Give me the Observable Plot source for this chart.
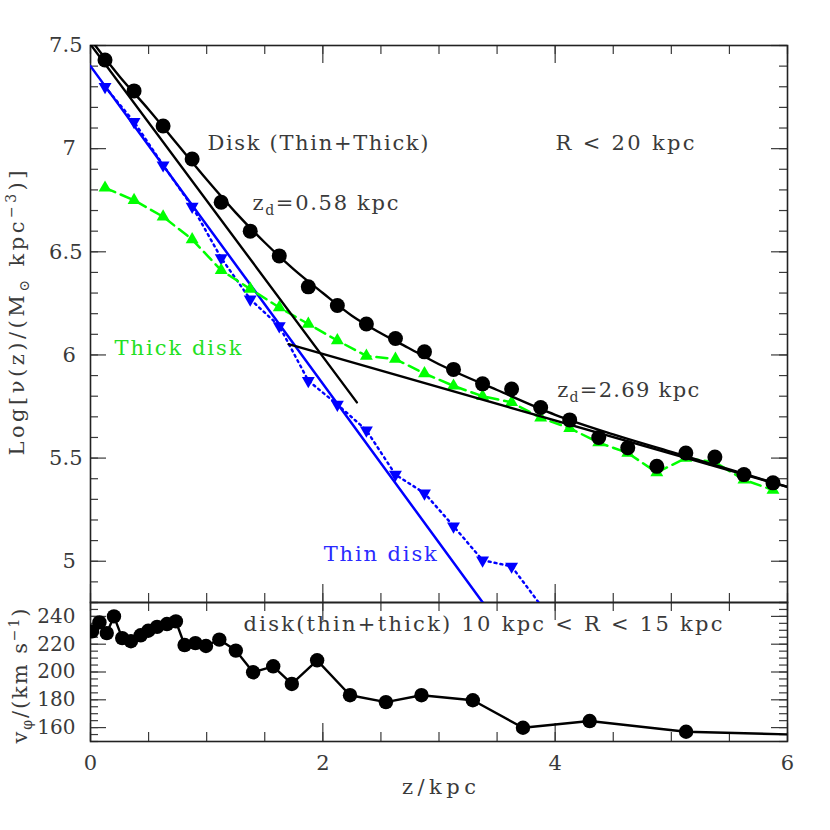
<!DOCTYPE html>
<html>
<head>
<meta charset="utf-8">
<script src="https://cdn.jsdelivr.net/npm/d3@7"></script>
<script src="https://cdn.jsdelivr.net/npm/@observablehq/plot@0.6"></script>
<style>
html,body{margin:0;padding:0;background:#fff;}
#chart{position:relative;width:830px;height:830px;}
#chart svg{position:absolute;left:0;top:0;}
#chart text{white-space:pre;}
</style>
</head>
<body>
<div id="chart"></div>
<script>
// ---------------- data ----------------
const zBins = [0.125,0.375,0.625,0.875,1.125,1.375,1.625,1.875,2.125,2.375,2.625,2.875,
               3.125,3.375,3.625,3.875,4.125,4.375,4.625,4.875,5.125,5.375,5.625,5.875];
const logNuDisk  = [7.43,7.28,7.11,6.95,6.74,6.60,6.48,6.33,6.24,6.15,6.08,6.015,
                    5.93,5.86,5.835,5.745,5.685,5.60,5.55,5.46,5.525,5.505,5.42,5.38];
const logNuThick = [6.81,6.75,6.67,6.56,6.41,6.32,6.23,6.15,6.07,5.995,5.98,5.91,
                    5.85,5.80,5.77,5.695,5.645,5.575,5.525,5.43,5.50,5.48,5.395,5.345];
const zThin      = [0.125,0.375,0.625,0.875,1.125,1.375,1.625,1.875,2.125,2.375,2.625,2.875,
                    3.125,3.375,3.625,4.125];
const logNuThin  = [7.30,7.13,6.92,6.72,6.47,6.27,6.14,5.875,5.76,5.635,5.42,5.33,
                    5.17,5.005,4.975,4.60];

// fitted lines
const fitThinZ = [0, 3.5],      fitThinLog = [7.40, 4.705];   // blue: thin disk fit
const fitSteepZ = [0, 2.293],   fitSteepLog = [7.505, 5.770]; // z_d = 0.58 kpc
const fitThickZ = [1.705, 6.0], fitThickLog = [6.052, 5.36];  // z_d = 2.69 kpc
const fitSumZ   = [0,0.25,0.5,0.75,1,1.25,1.5,1.75,2,2.25,2.5,2.75,3,3.5,4,4.5,5,5.5,6];
const fitSumLog = [7.53,7.35,7.19,7.02,6.85,6.69,6.545,6.415,6.30,6.19,6.105,6.03,5.955,
                   5.83,5.71,5.615,5.53,5.445,5.36];

// rotation velocity, bottom panel
const vZ   = [0.013,0.077,0.140,0.202,0.273,0.348,0.432,0.497,0.573,0.658,0.735,0.810,0.903,0.994,
              1.109,1.251,1.400,1.573,1.733,1.951,2.234,2.543,2.849,3.291,3.723,4.297,5.127,7.0];
const vPhi = [229.2,235.7,228.0,240.0,224.4,222.1,226.4,229.7,232.5,234.5,236.4,219.4,220.8,218.7,
              223.3,215.4,199.8,204.1,191.4,208.4,183.3,178.3,183.3,179.7,159.9,164.7,157.0,153.0];

// ticks / labels
const xTickLabels = [0, 2, 4, 6];
const topYLabels = [5, 5.5, 6, 6.5, 7, 7.5];
const botYLabels = [160, 180, 200, 220, 240];

// annotation texts
const txtDisk = "Disk (Thin+Thick)";
const txtR = "R < 20 kpc";
const txtZd1 = "zd=0.58 kpc";
const txtZd2 = "zd=2.69 kpc";
const txtThick = "Thick disk";
const txtThin = "Thin disk";
const txtBottom = "disk(thin+thick) 10 kpc < R < 15 kpc";
const txtXTitle = "z/kpc";
const txtYTop = "Log[ν(z)/(M⊙ kpc−3)]";
const txtYBot = "vφ/(km s−1)";

// ---------------- tables ----------------
const rows = (xs, ys) => xs.map((z, i) => ({z, v: ys[i]}));
const diskRows = rows(zBins, logNuDisk);
const thickRows = rows(zBins, logNuThick);
const thinRows = rows(zThin, logNuThin);
const vRows = rows(vZ, vPhi);

// ---------------- layout / style ----------------
const FONT = "'DejaVu Serif', 'Liberation Serif', serif";
const INK = "#3a3a3a";
const W = 830, H = 830, ML = 90, MR = 43;
const TOP_T = 45, TOP_B = 602, BOT_B = 741;
const plotW = W - ML - MR;
const GREEN = "#00ff00", BLUE = "#0000ff";

function frameTicks(plotH, yMaj, yMin) {
  const s = {stroke: INK, strokeWidth: 1.2};
  const xMin = d3.range(0, 6.001, 0.5);
  const xMaj = xTickLabels;
  return [
    Plot.tickX(xMin, {x: d => d, insetTop: plotH - 9, ...s}),
    Plot.tickX(xMin, {x: d => d, insetBottom: plotH - 9, ...s}),
    Plot.tickX(xMaj, {x: d => d, insetTop: plotH - 18, ...s}),
    Plot.tickX(xMaj, {x: d => d, insetBottom: plotH - 18, ...s}),
    Plot.tickY(yMin, {y: d => d, insetRight: plotW - 8, ...s}),
    Plot.tickY(yMin, {y: d => d, insetLeft: plotW - 8, ...s}),
    Plot.tickY(yMaj, {y: d => d, insetRight: plotW - 16, ...s}),
    Plot.tickY(yMaj, {y: d => d, insetLeft: plotW - 16, ...s}),
    Plot.frame({stroke: "#222", strokeWidth: 1.6})
  ];
}

const txt = (s, o) => Plot.text([s], {text: d => d, fill: INK, fontSize: 21, textAnchor: "start", ...o});

const topPlot = Plot.plot({
  width: W, height: H,
  marginTop: TOP_T, marginBottom: H - TOP_B, marginLeft: ML, marginRight: MR,
  x: {domain: [0, 6], axis: null},
  y: {domain: [4.8, 7.5], axis: null},
  style: {background: "none", fontFamily: FONT, color: INK, overflow: "visible"},
  marks: [
    ...frameTicks(TOP_B - TOP_T, topYLabels, d3.range(4.8, 7.501, 0.1)),
    Plot.text(topYLabels, {y: d => d, text: d => Number.isInteger(d) ? d + "\u00a0" : String(d),
      frameAnchor: "left", textAnchor: "end", dx: -8, fontSize: 21, fill: INK}),
    // thin disk
    Plot.line(rows(fitThinZ, fitThinLog), {x: "z", y: "v", stroke: BLUE, strokeWidth: 2.5, clip: true}),
    Plot.line(thinRows, {x: "z", y: "v", stroke: BLUE, strokeWidth: 2.4, strokeDasharray: "2,4", clip: true}),
    Plot.dot(thinRows, {x: "z", y: "v", symbol: "triangle", rotate: 180, r: 4.8, fill: BLUE, clip: true}),
    // thick disk
    Plot.line(thickRows, {x: "z", y: "v", stroke: GREEN, strokeWidth: 2.5, strokeDasharray: "11,6", clip: true}),
    Plot.dot(thickRows, {x: "z", y: "v", symbol: "triangle", r: 4.8, fill: GREEN, clip: true}),
    // black fits
    Plot.line(rows(fitSteepZ, fitSteepLog), {x: "z", y: "v", stroke: "#000", strokeWidth: 2.4, clip: true}),
    Plot.line(rows(fitThickZ, fitThickLog), {x: "z", y: "v", stroke: "#000", strokeWidth: 2.4, clip: true}),
    Plot.line(rows(fitSumZ, fitSumLog), {x: "z", y: "v", curve: "monotone-x", stroke: "#000", strokeWidth: 2.4, clip: true}),
    Plot.dot(diskRows, {x: "z", y: "v", r: 7.5, fill: "#000", clip: true}),
    // annotations
    txt(txtDisk, {x: 1.007, y: 7.028}),
    txt(txtR, {x: 4.003, y: 7.028}),
    txt(txtZd1, {x: 1.394, y: 6.733}),
    txt(txtZd2, {x: 4.017, y: 5.831}),
    txt(txtThick, {x: 0.207, y: 6.030, fill: "#22e022"}),
    txt(txtThin, {x: 2.008, y: 5.036, fill: "#2a2aff"}),
    txt(txtYTop, {frameAnchor: "left", rotate: -90, textAnchor: "middle", dx: -73, dy: -11})
  ]
});

const botPlot = Plot.plot({
  width: W, height: H,
  marginTop: TOP_B, marginBottom: H - BOT_B, marginLeft: ML, marginRight: MR,
  x: {domain: [0, 6], axis: null},
  y: {domain: [150, 250], axis: null},
  style: {background: "none", fontFamily: FONT, color: INK, overflow: "visible"},
  marks: [
    ...frameTicks(BOT_B - TOP_B, botYLabels, d3.range(150, 250.01, 5)),
    Plot.text(botYLabels, {y: d => d, text: d => String(d), frameAnchor: "left", textAnchor: "end",
      dx: -15, fontSize: 20, fill: INK}),
    Plot.text(xTickLabels, {x: d => d, text: d => String(d), frameAnchor: "bottom", lineAnchor: "top",
      dy: 14, fontSize: 21, fill: INK}),
    Plot.line(vRows, {x: "z", y: "v", stroke: "#000", strokeWidth: 2.4, clip: true}),
    Plot.dot(vRows, {x: "z", y: "v", r: 7.2, fill: "#000", clip: true}),
    txt(txtBottom, {x: 1.317, y: 234.7}),
    txt(txtXTitle, {frameAnchor: "bottom", textAnchor: "middle", dy: 52}),
    txt(txtYBot, {frameAnchor: "left", rotate: -90, textAnchor: "middle", dx: -70, dy: 4})
  ]
});

const chart = document.getElementById("chart");
chart.append(botPlot, topPlot);

// rich text (subscripts / superscripts)
function rich(svg, match, parts) {
  d3.select(svg).selectAll("text").filter(function () { return this.textContent === match; })
    .each(function () {
      const t = d3.select(this);
      t.text("");
      let shift = 0;
      for (const p of parts) {
        const sp = t.append("tspan").text(p.t);
        const s = p.s || 0;
        if (s !== shift) sp.attr("dy", s - shift);
        shift = s;
        if (p.f) sp.attr("font-size", p.f);
      }
    });
}
// stretch text to the wide glyph spacing of the original
function stretch(svg, match, len) {
  d3.select(svg).selectAll("text").filter(function () { return this.textContent === match; })
    .attr("textLength", len).attr("lengthAdjust", "spacing");
}
stretch(topPlot, txtDisk, 221);
stretch(topPlot, txtR, 139);
stretch(topPlot, txtZd1, 146);
stretch(topPlot, txtZd2, 142);
stretch(topPlot, txtThick, 127);
stretch(topPlot, txtThin, 113);
stretch(topPlot, txtYTop, 285);
stretch(botPlot, txtBottom, 479);
stretch(botPlot, txtXTitle, 74);
stretch(botPlot, txtYBot, 135);
rich(topPlot, txtZd1, [{t: "z"}, {t: "d", s: 5, f: "14px"}, {t: "=0.58 kpc"}]);
rich(topPlot, txtZd2, [{t: "z"}, {t: "d", s: 5, f: "14px"}, {t: "=2.69 kpc"}]);
rich(topPlot, txtYTop, [{t: "Log[ν(z)/(M"}, {t: "⊙", s: 5, f: "14px"}, {t: " kpc"}, {t: "−3", s: -8, f: "14px"}, {t: ")]"}]);
rich(botPlot, txtYBot, [{t: "v"}, {t: "φ", s: 5, f: "14px"}, {t: "/(km s"}, {t: "−1", s: -8, f: "14px"}, {t: ")"}]);
</script>
</body>
</html>
